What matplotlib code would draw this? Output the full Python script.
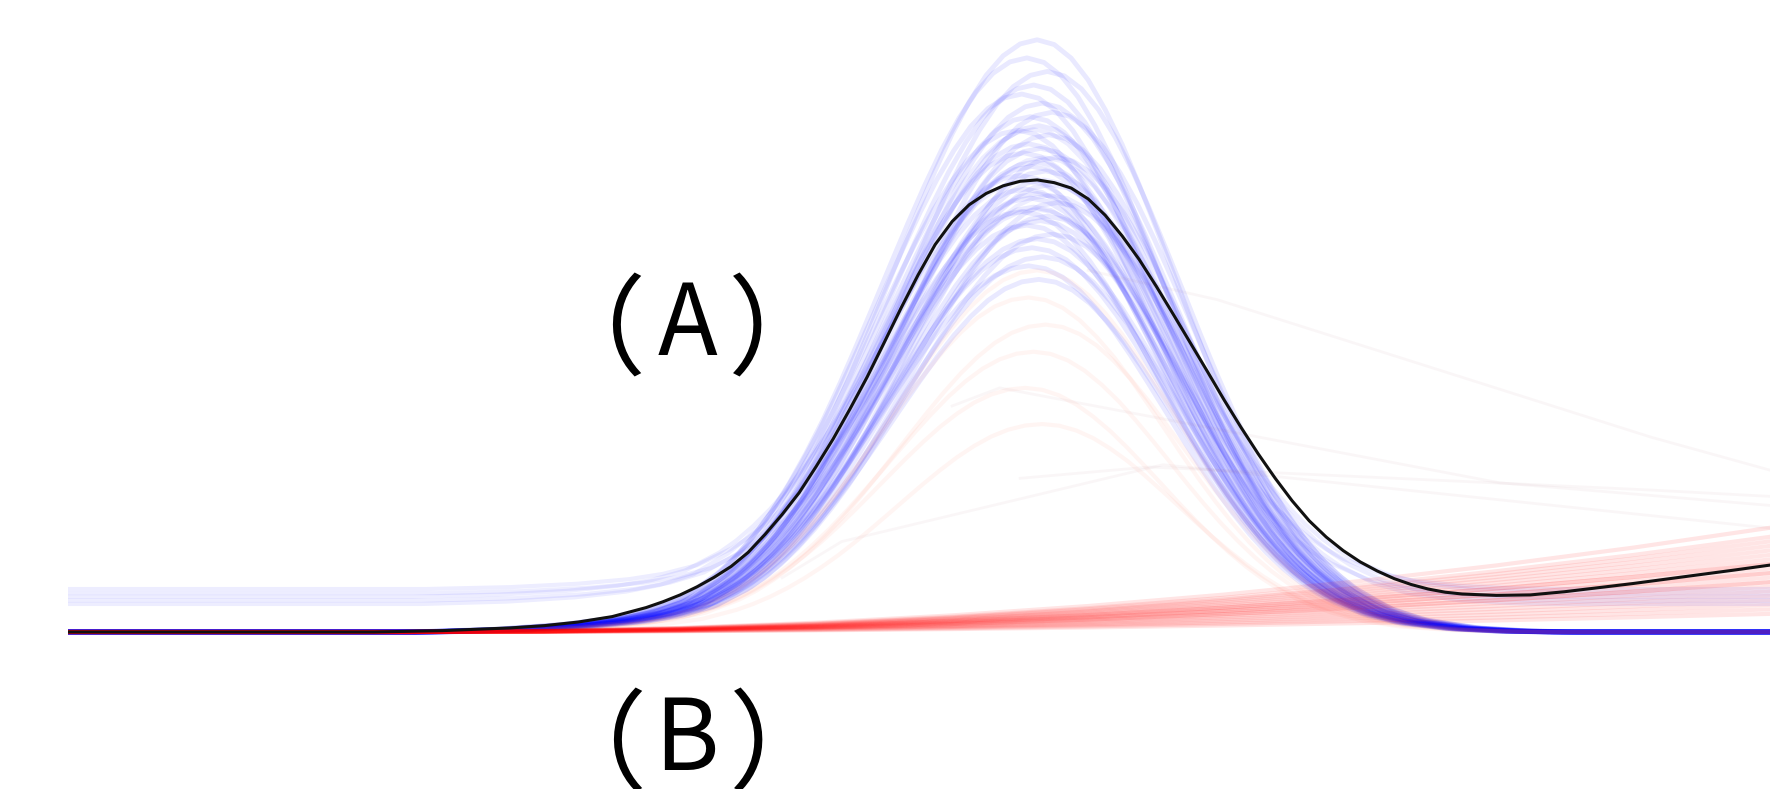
import matplotlib
matplotlib.use('Agg')
import matplotlib.pyplot as plt
import numpy as np
from matplotlib.textpath import TextPath
from matplotlib.font_manager import FontProperties

# mean curve (black), x in time units, y normalised to its peak
mean_x = [0, 18, 22, 26, 28, 30, 32, 34, 35, 36, 37, 38, 39, 40, 41, 42, 43, 44, 45, 46, 47,
          48, 49, 50, 51, 52, 53, 54, 55, 56, 57, 58, 59, 60, 61, 62, 63, 64, 65, 66, 67, 68,
          69, 70, 71, 72, 73, 74, 75, 76, 77, 78, 79, 80, 81, 82, 84, 86, 88, 90, 92, 94, 96,
          98, 100.1]
mean_y = [0, 0, 0.003, 0.009, 0.014, 0.022, 0.034, 0.054, 0.067, 0.082, 0.100, 0.121, 0.145,
          0.176, 0.216, 0.260, 0.308, 0.366, 0.427, 0.494, 0.564, 0.640, 0.717, 0.790, 0.857,
          0.908, 0.945, 0.970, 0.987, 0.997, 1.000, 0.994, 0.982, 0.958, 0.922, 0.876, 0.824,
          0.765, 0.703, 0.640, 0.577, 0.513, 0.452, 0.394, 0.340, 0.290, 0.246, 0.210, 0.180,
          0.155, 0.135, 0.118, 0.105, 0.095, 0.088, 0.084, 0.081, 0.082, 0.089, 0.098, 0.107,
          0.117, 0.127, 0.137, 0.148]

# shape of one bump, as offset from its peak
bump_dx = [-60, -36, -31, -27, -24, -22, -20, -18, -17, -16, -15, -14, -13, -12, -11, -10, -9,
           -8, -7, -6, -5, -4, -3, -2, -1, 0, 1, 2, 3, 4, 5, 6, 7, 8, 9, 10, 11, 12, 13, 14,
           15, 16, 17, 18, 20, 22, 25, 28, 31, 60]
bump_val = [0, 0, 0.005, 0.014, 0.026, 0.040, 0.063, 0.106, 0.135, 0.170, 0.211, 0.258, 0.311,
            0.369, 0.433, 0.501, 0.571, 0.642, 0.712, 0.779, 0.841, 0.895, 0.940, 0.973, 0.993,
            1.0, 0.992, 0.969, 0.932, 0.882, 0.823, 0.755, 0.682, 0.607, 0.531, 0.458, 0.389,
            0.325, 0.267, 0.216, 0.172, 0.135, 0.105, 0.080, 0.044, 0.023, 0.008, 0.002, 0, 0]

# blue runs: peak height and peak time
blue_peak = [1.31, 1.27, 1.24, 1.21, 1.19, 1.17, 1.15, 1.14, 1.12, 1.11, 1.10, 1.08, 1.07, 1.06,
             1.05, 1.04, 1.03, 1.02, 1.01, 1.00, 0.99, 0.98, 0.97, 0.96, 0.95, 0.94, 0.93, 0.92,
             0.91, 0.90, 0.88, 0.87, 0.85, 0.83, 0.81, 0.78]
blue_center = [57.0, 56.4, 57.6, 56.8, 56.1, 57.3, 57.9, 56.6, 57.1, 55.9, 57.7, 56.5, 57.2, 56.2,
               58.1, 56.9, 56.7, 57.5, 56.0, 57.4, 57.8, 56.3, 57.0, 56.6, 58.2, 56.8, 56.1, 57.6,
               57.2, 56.4, 57.9, 57.0, 56.7, 57.3, 56.5, 57.1]
# blue runs sitting on a raised baseline
lift_peak = [1.05, 0.98, 0.92, 0.88, 0.84]
lift_center = [56.8, 57.4, 56.3, 57.8, 57.0]
lift_base = [0.062, 0.070, 0.078, 0.086, 0.095]

# red runs: slow ramp, scaled by the value reached at the right edge
ramp_x = [0, 20, 28, 36, 44, 52, 60, 68, 76, 84, 92, 100, 110]
ramp_val = [0, 0, 0.01, 0.04, 0.09, 0.16, 0.25, 0.36, 0.49, 0.64, 0.81, 1.0, 1.25]
red_end = [0.23, 0.21, 0.20, 0.19, 0.18, 0.17, 0.16, 0.15, 0.15, 0.14, 0.13, 0.13, 0.12, 0.11,
           0.11, 0.10, 0.09, 0.08, 0.07, 0.06, 0.05, 0.04]
# red runs that also make a bump
red_bump_peak = [0.80, 0.74, 0.68, 0.62, 0.54, 0.46]
red_bump_center = [57.0, 56.5, 57.5, 56.8, 56.3, 57.3]

# a few broad, faint runs
broad_x = [[42, 45.5, 64.4, 100.1],
           [60, 67.6, 93.1, 100.1],
           [52, 54.8, 84.2, 100.1],
           [56, 63.6, 93.1, 100.1]]
broad_y = [[0.12, 0.20, 0.37, 0.23],
           [0.80, 0.735, 0.431, 0.358],
           [0.50, 0.54, 0.33, 0.28],
           [0.34, 0.365, 0.314, 0.30]]

# panel labels: glyph, ink centre x (px), ink top (px from top), ink height (px)
label_glyphs = ['（', 'A', '）', '（', 'B', '）']
label_cx = [626, 687, 747.5, 627, 689, 748]
label_top = [273, 283, 273, 688, 698, 688]
label_h = [104, 72, 104, 104, 72, 104]

W, H = 1770, 789
DPI = 100
fig = plt.figure(figsize=(W / DPI, H / DPI), dpi=DPI)
ax = fig.add_axes([68 / W, 0, 1 - 68 / W, 1])
ax.set_xlim(0, 100.1)
ax.set_ylim(-0.3473, 1.398)
ax.axis('off')

dx = np.array(bump_dx)
bv = np.array(bump_val)

for p, c in zip(blue_peak, blue_center):
    ax.plot(dx + c, p * bv, color='#0000ff', alpha=0.085, lw=3.5)
for p, c, b in zip(lift_peak, lift_center, lift_base):
    ax.plot(dx + c, b + p * bv, color='#0000ff', alpha=0.07, lw=3)

for bx, by in zip(broad_x, broad_y):
    ax.plot(bx, by, color='#a06070', alpha=0.05, lw=2)

for p, c in zip(red_bump_peak, red_bump_center):
    ax.plot(dx + c, p * bv, color='#ff6040', alpha=0.06, lw=3)
for e in red_end:
    ax.plot(ramp_x, e * np.array(ramp_val), color='#ff0000', alpha=0.1, lw=3)

ax.plot(mean_x, mean_y, color='#111111', lw=2.2)

# place each glyph so its ink box lands where it is in the picture
fp = FontProperties(family='Noto Sans CJK JP')
for ch, cx, top, h in zip(label_glyphs, label_cx, label_top, label_h):
    bb = TextPath((0, 0), ch, size=70, prop=fp).get_extents()
    k = h / (bb.height * DPI / 72)
    px = DPI / 72 * k
    left = cx - (bb.x0 + bb.x1) / 2 * px
    base = top + bb.y1 * px
    fig.text(left / W, 1 - base / H, ch, ha='left', va='baseline', fontsize=70 * k,
             fontproperties=fp)

fig.savefig('out.png', dpi=DPI, facecolor='white')
